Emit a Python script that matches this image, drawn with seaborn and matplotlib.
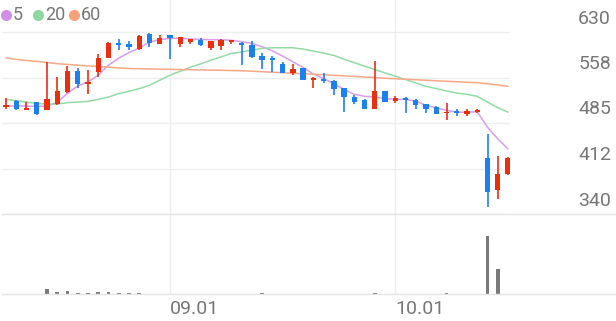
import matplotlib
matplotlib.use("Agg")
import matplotlib.pyplot as plt
import matplotlib.transforms as mtransforms
import numpy as np
import pandas as pd
import seaborn as sns

# ---------------- data ----------------
open_ = [509.8, 519.5, 505.5, 517.9, 505.0, 514.7, 533.9, 567.5, 546.7, 565.9,
         588.3, 611.6, 610.8, 602.8, 626.8, 610.8, 625.2, 610.8, 614.0, 617.2,
         604.4, 607.6, 614.0, 612.4, 609.2, 591.6, 588.3, 578.7, 564.3, 572.3,
         553.1, 554.7, 551.5, 540.3, 525.9, 521.1, 506.6, 535.5, 519.5, 524.3,
         521.9, 514.7, 509.8, 500.2, 503.4, 498.6, 501.8, 429.8, 378.5, 404.1]
high = [524.3, 521.0, 517.9, 517.9, 581.9, 557.9, 575.5, 572.3, 569.1, 594.8,
        614.0, 618.8, 615.6, 625.2, 628.4, 625.2, 625.2, 622.0, 618.8, 620.4,
        615.6, 618.8, 617.2, 614.0, 615.6, 596.4, 591.6, 581.9, 578.7, 572.3,
        557.9, 564.3, 553.1, 540.3, 529.1, 522.7, 583.5, 535.5, 527.5, 525.9,
        522.7, 514.7, 511.5, 516.3, 506.6, 506.6, 506.6, 468.2, 432.9, 431.4]
low = [506.6, 505.0, 505.0, 497.0, 505.0, 513.0, 532.3, 540.3, 530.7, 557.9,
       588.3, 601.2, 601.2, 601.2, 606.0, 610.8, 586.7, 606.0, 610.8, 607.6,
       601.2, 601.2, 610.8, 577.1, 588.3, 570.7, 565.9, 564.3, 561.1, 553.1,
       540.3, 548.3, 529.1, 501.8, 514.7, 506.6, 506.6, 517.9, 516.3, 500.2,
       506.6, 500.2, 498.6, 489.0, 495.4, 495.4, 500.2, 351.3, 364.1, 402.5]
close = [513.0, 506.6, 508.7, 498.6, 522.7, 535.5, 567.5, 546.7, 549.9, 588.3,
         612.4, 609.2, 606.0, 623.6, 612.4, 620.4, 620.4, 622.0, 618.8, 609.2,
         615.6, 617.2, 617.2, 609.2, 590.0, 585.1, 585.1, 564.3, 570.7, 553.1,
         556.3, 551.5, 538.7, 525.9, 517.9, 506.6, 535.5, 517.9, 524.3, 521.1,
         513.0, 506.6, 498.6, 501.8, 500.2, 503.4, 505.0, 375.3, 404.1, 429.8]
ma5 = [511.9, 512.3, 511.9, 511.5, 511.9, 517.9, 532.3, 544.0, 550.4, 561.1,
       577.1, 588.3, 597.2, 604.4, 614.0, 617.7, 619.9, 619.9, 618.8, 618.3,
       617.7, 617.7, 616.7, 614.5, 611.9, 606.5, 600.0, 591.6, 582.5, 573.5,
       563.0, 555.8, 547.8, 538.2, 530.7, 527.5, 526.4, 523.8, 522.7, 522.7,
       520.0, 513.1, 509.4, 505.0, 502.3, 502.3, 502.9, 478.3, 459.7, 443.7]
ma20 = [522.7, 520.6, 518.3, 516.3, 515.1, 515.1, 517.4, 518.3, 519.5, 522.7,
        526.4, 531.8, 535.5, 539.8, 545.1, 553.1, 561.1, 567.5, 573.9, 579.2,
        585.1, 590.4, 595.9, 598.0, 601.2, 603.9, 604.9, 604.9, 604.9, 602.8,
        599.6, 596.4, 592.7, 586.7, 581.1, 575.5, 570.2, 564.8, 559.5, 554.2,
        548.8, 543.5, 539.8, 536.0, 532.8, 530.7, 527.5, 518.3, 509.4, 502.3]
ma60 = [588.8, 586.3, 584.7, 583.1, 581.5, 579.5, 578.3, 577.1, 576.0, 575.1,
        573.9, 572.8, 571.8, 571.5, 571.2, 570.9, 570.6, 570.2, 569.9, 569.6,
        569.3, 569.0, 568.6, 568.2, 567.5, 566.7, 565.9, 565.1, 564.3, 563.5,
        562.7, 561.9, 561.1, 560.1, 559.2, 558.2, 557.3, 556.3, 555.5, 554.7,
        553.9, 553.1, 552.3, 551.5, 550.7, 549.9, 549.3, 547.5, 545.6, 543.5]
volume = [3, 3, 3, 4, 47, 20, 27, 6, 6, 23, 23, 6, 6, 10, 5, 4, 3, 3, 3, 3,
          3, 3, 3, 3, 4, 9, 3, 3, 3, 3, 3, 3, 3, 3, 3, 3, 8, 3, 3, 3,
          3, 3, 3, 9, 3, 3, 3, 580, 250, 3]
date_tick_pos = [16, 38]
date_tick_labels = ["09.01", "10.01"]
price_ticks = [630, 557.5, 485, 412.5, 340]
price_tick_labels = ["630", "558", "485", "412", "340"]
ma_names = ["5", "20", "60"]

# ---------------- style ----------------
sns.set_theme(style="white")
plt.rcParams["font.family"] = ["Roboto", "DejaVu Sans"]

RED = "#e8300e"
BLUE = "#1d80ef"
MA_COLORS = ["#d89cf0", "#93dba6", "#f7a886"]
LEG_COLORS = ["#cf8fe6", "#8fd9a0", "#f8a27c"]
GRID = "#eeeeee"
TXT = "#777777"

W, H = 616, 321
fig = plt.figure(figsize=(W / 100, H / 100), dpi=100)
fig.patch.set_facecolor("white")


def rect(l, t, r, b):
    return [l / W, 1 - b / H, (r - l) / W, (b - t) / H]


px_per_unit = 10.245
x0_px = 6.0
axp = fig.add_axes(rect(2, 0, 510, 214))
axv = fig.add_axes(rect(2, 214, 616, 294))

n = len(close)
idx = np.arange(n)

# ---------- price panel ----------
ylo, yhi = 340, 630
scale = (yhi - ylo) / (214 - 32)
axp.set_ylim(ylo, yhi + 32 * scale)
axp.set_xlim((2 - x0_px) / px_per_unit, (510 - x0_px) / px_per_unit)
for s in axp.spines.values():
    s.set_visible(False)
axp.set_facecolor("none")
axp.set_xticks([])
axp.set_yticks([])
for v in price_ticks:
    axp.axhline(v, color=GRID, lw=1.0, zorder=0)
for v in date_tick_pos:
    axp.axvline(v, color=GRID, lw=1.0, zorder=0)

df = pd.DataFrame({"i": np.concatenate([idx] * 3),
                   "v": np.concatenate([ma5, ma20, ma60]),
                   "ma": np.repeat(ma_names, n)})
sns.lineplot(data=df, x="i", y="v", hue="ma", palette=dict(zip(ma_names, MA_COLORS)),
             ax=axp, legend=False, lw=1.1, zorder=2)
axp.set_xlabel("")
axp.set_ylabel("")

o = np.array(open_); c = np.array(close); hi = np.array(high); lo = np.array(low)
up = c >= o
cols = np.where(up, RED, BLUE)
axp.vlines(idx, lo, hi, colors=cols, lw=1.2, zorder=3)
bottoms = np.minimum(o, c)
heights = np.maximum(np.abs(c - o), 2.5)
axp.bar(idx, heights, bottom=bottoms, width=0.52, color=cols, linewidth=0, zorder=4)

# right-side price labels
trans = mtransforms.blended_transform_factory(fig.transFigure, axp.transData)
for v, lab in zip(price_ticks, price_tick_labels):
    axp.text(611 / W, v + 13.5 * scale, lab, transform=trans, ha="right", va="center",
             fontsize=14, color=TXT)

# legend
lx = [6, 38, 74]
for x, col, name in zip(lx, LEG_COLORS, ma_names):
    fig.lines.append(plt.Line2D([x / W], [1 - 15 / H], marker="o", markersize=8,
                                color=col, markeredgewidth=0, transform=fig.transFigure))
    fig.text((x + 7) / W, 1 - 15 / H, name, ha="left", va="center", fontsize=13, color=TXT)

# ---------- volume panel ----------
axv.set_xlim((2 - x0_px) / px_per_unit, (616 - x0_px) / px_per_unit)
axv.set_ylim(0, 800)
axv.set_facecolor("none")
sns.despine(ax=axv, left=True, right=True, top=False, bottom=False)
for side in ["top", "bottom"]:
    axv.spines[side].set_color("#e4e4e4")
    axv.spines[side].set_linewidth(1.0)
for v in date_tick_pos:
    axv.axvline(v, color=GRID, lw=1.0, zorder=0)
axv.bar(idx, volume, width=0.38, color="#7a7a7a", linewidth=0, zorder=2)
axv.set_yticks([])
axv.set_xticks(date_tick_pos)
axv.set_xticklabels([])
axv.tick_params(axis="x", length=0)
for p, lab in zip(date_tick_pos, date_tick_labels):
    axv.text(p, -0.07, lab, transform=mtransforms.blended_transform_factory(axv.transData, axv.transAxes),
             ha="left", va="top", fontsize=14, color=TXT)

fig.savefig("out.png", dpi=100, facecolor="white")
